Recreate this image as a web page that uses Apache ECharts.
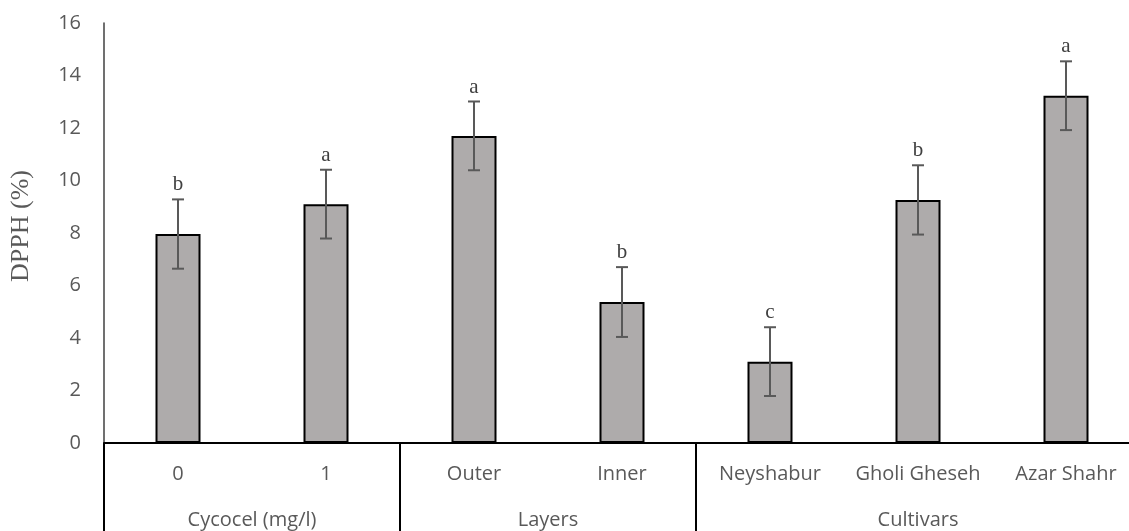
<!DOCTYPE html>
<html>
<head>
<meta charset="utf-8">
<script src="https://cdn.jsdelivr.net/npm/echarts@6/dist/echarts.min.js"></script>
<style>
html,body{margin:0;padding:0;background:#fff;}
#chart{width:1129px;height:531px;}
</style>
</head>
<body>
<div id="chart"></div>
<script>
// ---- data ----
const categories = ['0', '1', 'Outer', 'Inner', 'Neyshabur', 'Gholi Gheseh', 'Azar Shahr'];
const values = [7.96, 9.10, 11.70, 5.37, 3.10, 9.26, 13.23];
const errors = [1.32, 1.31, 1.31, 1.33, 1.31, 1.32, 1.31];
const letters = ['b', 'a', 'a', 'b', 'c', 'b', 'a'];
const groupNames = ['Cycocel (mg/l)', 'Layers', 'Cultivars'];
const groupStart = [0, 2, 4];
const groupEnd = [1, 3, 6];
const yTicks = [0, 2, 4, 6, 8, 10, 12, 14, 16];

const chart = echarts.init(document.getElementById('chart'));

const textColor = '#595959';
const sans = 'Open Sans';
const serif = 'Liberation Serif';

const errData = values.map((v, i) => [i, v, errors[i]]);
const groupData = groupNames.map((g, i) => [groupStart[i], groupEnd[i]]);

const option = {
  animation: false,
  backgroundColor: '#ffffff',
  grid: { left: 104, top: 23, width: 1036, height: 420, outerBoundsMode: 'none', containLabel: false },
  xAxis: {
    type: 'category',
    data: categories,
    boundaryGap: true,
    axisLine: { show: true, lineStyle: { color: '#000000', width: 2 } },
    axisTick: {
      show: true,
      length: 92,
      interval: function (index) { return groupStart.indexOf(index) >= 0; },
      lineStyle: { color: '#000000', width: 2 }
    },
    axisLabel: {
      interval: 0,
      margin: 20,
      fontFamily: sans,
      fontSize: 20,
      lineHeight: 22,
      color: textColor
    },
    splitLine: { show: false }
  },
  yAxis: {
    type: 'value',
    min: yTicks[0],
    max: yTicks[yTicks.length - 1],
    interval: yTicks[1] - yTicks[0],
    name: 'DPPH (%)',
    nameLocation: 'middle',
    nameRotate: 90,
    nameGap: 70,
    nameTextStyle: { fontFamily: serif, fontSize: 26, color: textColor, padding: [0, 0, 0, 14] },
    axisLine: { show: true, lineStyle: { color: '#404040', width: 1.5 } },
    axisTick: { show: false },
    splitLine: { show: false },
    axisLabel: {
      margin: 23,
      fontFamily: sans,
      fontSize: 20,
      color: textColor
    }
  },
  series: [
    {
      type: 'bar',
      data: values,
      barWidth: 45,
      itemStyle: { color: '#AEABAB', borderColor: '#000000', borderWidth: 2 },
      silent: true
    },
    {
      type: 'custom',
      data: errData,
      clip: false,
      silent: true,
      z: 10,
      renderItem: function (params, api) {
        const i = api.value(0);
        const v = api.value(1);
        const e = api.value(2);
        const top = api.coord([i, v + e]);
        const bot = api.coord([i, v - e]);
        const cap = 6;
        const st = { stroke: '#595959', lineWidth: 2 };
        return {
          type: 'group',
          children: [
            { type: 'line', shape: { x1: top[0], y1: top[1], x2: bot[0], y2: bot[1] }, style: st },
            { type: 'line', shape: { x1: top[0] - cap, y1: top[1], x2: top[0] + cap, y2: top[1] }, style: st },
            { type: 'line', shape: { x1: bot[0] - cap, y1: bot[1], x2: bot[0] + cap, y2: bot[1] }, style: st },
            {
              type: 'text',
              style: {
                text: letters[params.dataIndex],
                x: top[0],
                y: top[1] - 4,
                align: 'center',
                verticalAlign: 'bottom',
                fontFamily: serif,
                fontSize: 21,
                fill: '#404040'
              }
            }
          ]
        };
      }
    },
    {
      type: 'custom',
      data: groupData,
      clip: false,
      silent: true,
      renderItem: function (params, api) {
        const idx = params.dataIndex;
        const a = api.coord([groupStart[idx], 0]);
        const b = api.coord([groupEnd[idx], 0]);
        return {
          type: 'text',
          style: {
            text: groupNames[idx],
            x: (a[0] + b[0]) / 2,
            y: a[1] + 77,
            align: 'center',
            verticalAlign: 'middle',
            fontFamily: sans,
            fontSize: 20,
            fill: textColor
          }
        };
      }
    }
  ]
};

chart.setOption(option);
</script>
</body>
</html>
